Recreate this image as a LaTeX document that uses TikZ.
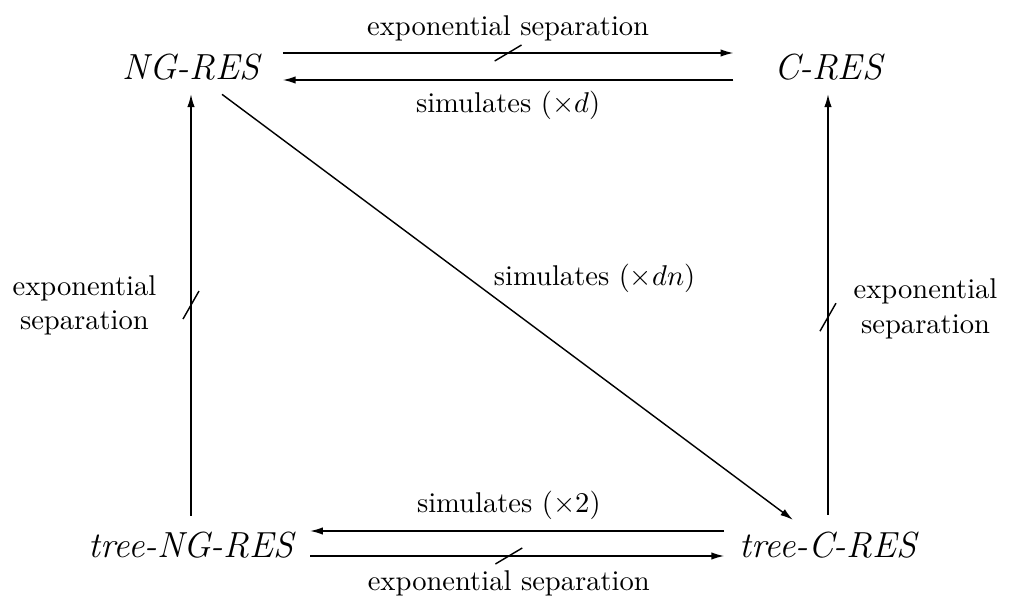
\documentclass[tikz,border=0pt]{standalone}
\usepackage{fontspec}
\usetikzlibrary{arrows.meta}

\begin{document}
\begin{tikzpicture}[x=0.35pt, y=-0.35pt,
    sys/.style={inner sep=0pt, anchor=base, font=\fontsize{12.7}{15}\selectfont\itshape},
    lbl/.style={inner sep=0pt, font=\normalsize},
    arr/.style={line width=0.5pt, -{Latex[length=4.5pt,width=2.6pt]}},
    hcut/.pic={\draw[-, line width=0.5pt] (-4.7pt,-2.8pt) -- (4.7pt,2.8pt);},
    vcut/.pic={\draw[-, line width=0.5pt] (-2.8pt,-4.9pt) -- (2.8pt,4.9pt);}]
  \useasboundingbox (0,0) rectangle (1010,599);
  % Systems
  \node[sys] (ngres) at (191,80) {NG-RES};
  \node[sys] (cres) at (828,80) {C-RES};
  \node[sys] (tngres) at (191,558) {tree-NG-RES};
  \node[sys] (tcres) at (828,557) {tree-C-RES};
  % NG-RES <-> C-RES
  \draw[arr] ([shift={(23,-27)}]ngres.base east) -- ([shift={(-40,-27)}]cres.base west)
    pic[pos=0.5]{hcut}
    node[lbl, pos=0.5, anchor=base, yshift=6.3pt] {exponential separation};
  \draw[arr] ([shift={(-40,0)}]cres.base west) -- ([shift={(23,0)}]ngres.base east)
    node[lbl, pos=0.5, anchor=base, yshift=-11.2pt] {simulates $(\times d)$};
  % tree-NG-RES <-> tree-C-RES
  \draw[arr] ([shift={(-15,-26)}]tcres.base west) -- ([shift={(16,-27)}]tngres.base east)
    node[lbl, pos=0.52, anchor=base, yshift=6.65pt] {simulates $(\times 2)$};
  \draw[arr] ([shift={(16,-2)}]tngres.base east) -- ([shift={(-15,-1)}]tcres.base west)
    pic[pos=0.48]{hcut}
    node[lbl, pos=0.48, anchor=base, yshift=-11.9pt] {exponential separation};
  % Vertical arrows
  \draw[arr] ([yshift=5.6pt]tngres.north) -- ([yshift=-4.5pt]ngres.south)
    pic[pos=0.5]{vcut}
    node[lbl, pos=0.5, anchor=east, xshift=-11.9pt, align=center] {exponential\\separation};
  \draw[arr] ([yshift=5.6pt]tcres.north) -- ([yshift=-4.5pt]cres.south)
    pic[pos=0.47]{vcut}
    node[lbl, pos=0.49, anchor=west, xshift=8.75pt, align=center] {exponential\\separation};
  % Diagonal
  \draw[arr] ([shift={(31,13)}]ngres.south) -- ([shift={(-35,-11)}]tcres.north)
    node[lbl, pos=0.475, anchor=base west, yshift=3.85pt] {simulates $(\times dn)$};
\end{tikzpicture}
\end{document}
